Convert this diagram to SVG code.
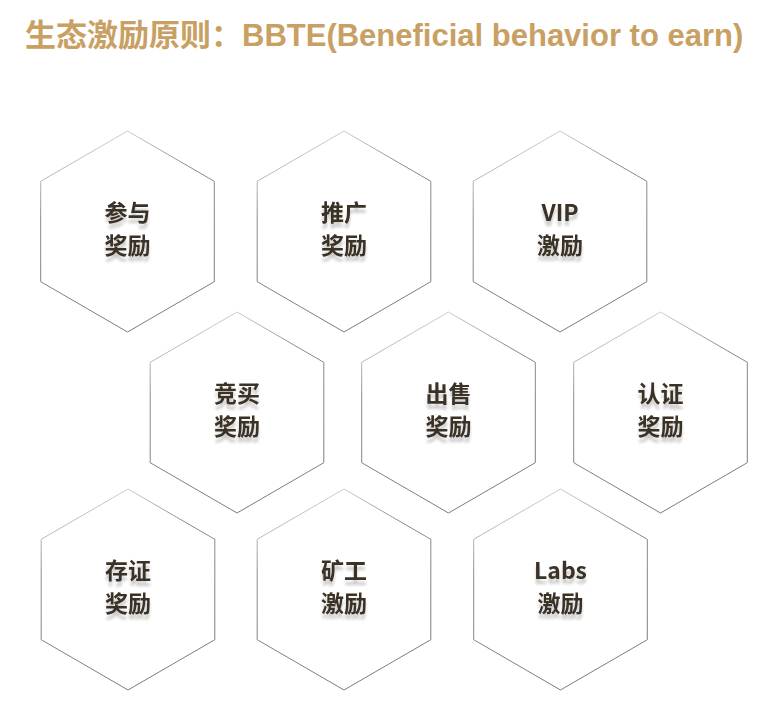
<svg xmlns="http://www.w3.org/2000/svg" width="773" height="720" viewBox="0 0 773 720">
<style>
.title{font-family:"Liberation Sans","Noto Sans CJK SC",sans-serif;font-weight:bold;font-size:31px;fill:#c9a063}
.hex{fill:#ffffff;stroke:url(#hexStroke);stroke-width:1}
.lbl{font-family:"Noto Sans CJK SC","Noto Sans",sans-serif;font-weight:bold;font-size:23px;fill:#3a3026;text-anchor:middle;filter:url(#shadow)}
</style>
<defs>
<linearGradient id="hexStroke" x1="0.35" y1="0" x2="0.65" y2="1">
<stop offset="0" stop-color="#d8d8d8"/>
<stop offset="0.3" stop-color="#8a8a8a"/>
<stop offset="1" stop-color="#7a7a7a"/>
</linearGradient>
<filter id="shadow" x="-20%" y="-20%" width="140%" height="160%">
<feGaussianBlur in="SourceAlpha" stdDeviation="1.5" result="b"/>
<feOffset in="b" dy="5" result="o"/>
<feComponentTransfer in="o" result="s"><feFuncA type="linear" slope="0.22"/></feComponentTransfer>
<feMerge><feMergeNode in="s"/><feMergeNode in="SourceGraphic"/></feMerge>
</filter>
<polygon id="hexShape" points="0,-100.5 86.8,-50.2 86.8,50.2 0,100.5 -86.8,50.2 -86.8,-50.2"/>
</defs>
<rect width="773" height="720" fill="#ffffff"/>
<text class="title" x="25" y="46">生态激励原则：BBTE(Beneficial behavior to earn)</text>
<g id="connectors"></g>
<g id="n1" transform="translate(127.5,231.5)"><use href="#hexShape" class="hex"/><text class="lbl" x="0" y="-11">参与</text><text class="lbl" x="0" y="22">奖励</text></g>
<g id="n2" transform="translate(344,231.5)"><use href="#hexShape" class="hex"/><text class="lbl" x="0" y="-11">推广</text><text class="lbl" x="0" y="22">奖励</text></g>
<g id="n3" transform="translate(560,231.5)"><use href="#hexShape" class="hex"/><text class="lbl" x="0" y="-11">VIP</text><text class="lbl" x="0" y="22">激励</text></g>
<g id="n4" transform="translate(237,412.5)"><use href="#hexShape" class="hex"/><text class="lbl" x="0" y="-11">竞买</text><text class="lbl" x="0" y="22">奖励</text></g>
<g id="n5" transform="translate(448.5,412.5)"><use href="#hexShape" class="hex"/><text class="lbl" x="0" y="-11">出售</text><text class="lbl" x="0" y="22">奖励</text></g>
<g id="n6" transform="translate(660.5,412.5)"><use href="#hexShape" class="hex"/><text class="lbl" x="0" y="-11">认证</text><text class="lbl" x="0" y="22">奖励</text></g>
<g id="n7" transform="translate(128,589.5)"><use href="#hexShape" class="hex"/><text class="lbl" x="0" y="-11">存证</text><text class="lbl" x="0" y="22">奖励</text></g>
<g id="n8" transform="translate(344,589.5)"><use href="#hexShape" class="hex"/><text class="lbl" x="0" y="-11">矿工</text><text class="lbl" x="0" y="22">激励</text></g>
<g id="n9" transform="translate(560.5,589.5)"><use href="#hexShape" class="hex"/><text class="lbl" x="0" y="-11">Labs</text><text class="lbl" x="0" y="22">激励</text></g>
</svg>
